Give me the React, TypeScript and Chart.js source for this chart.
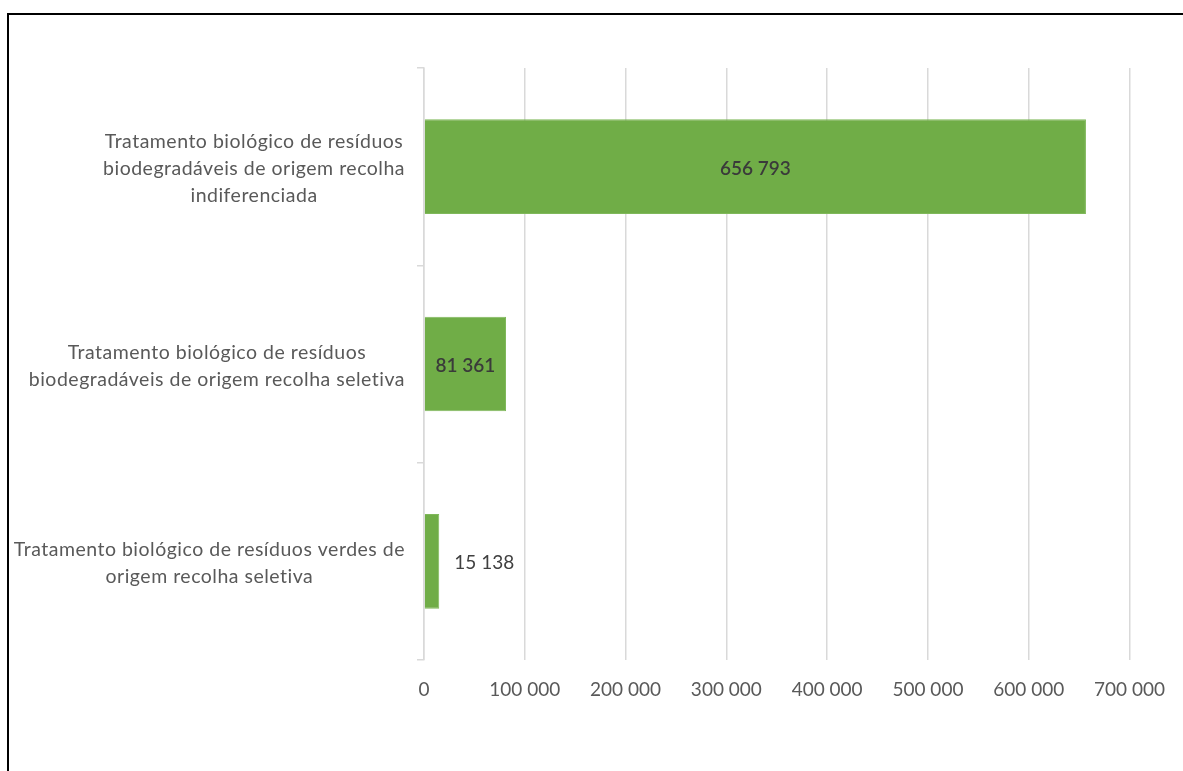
import React, { useEffect, useRef } from "react";
import { Chart, registerables } from "chart.js";

Chart.register(...registerables);

const categories: string[][] = [
  ["Tratamento biológico de resíduos", "biodegradáveis de origem recolha", "indiferenciada"],
  ["Tratamento biológico de resíduos", "biodegradáveis de origem recolha seletiva"],
  ["Tratamento biológico de resíduos verdes de", "origem recolha seletiva"],
];
const values: number[] = [656793, 81361, 15138];
const axisMin = 0;
const axisMax = 700000;
const axisStep = 100000;

const FONT = "Lato, 'Open Sans', sans-serif";
const fmt = (v: number) => String(Math.round(v)).replace(/\B(?=(\d{3})+(?!\d))/g, " ");

const categoryLabelPlugin = {
  id: "categoryLabels",
  afterDraw(chart: any) {
    const scale = chart.scales.y;
    const ctx = chart.ctx;
    ctx.save();
    ctx.font = `19.5px ${FONT}`;
    try {
      (ctx as any).letterSpacing = "0.5px";
    } catch (e) {}
    ctx.fillStyle = "#595959";
    ctx.textAlign = "center";
    ctx.textBaseline = "middle";
    const rightEdge = scale.right - 19;
    const lineH = 27;
    categories.forEach((lines, i) => {
      const y = scale.getPixelForTick(i);
      const w = Math.max(...lines.map((l) => ctx.measureText(l).width));
      const cx = rightEdge - w / 2;
      lines.forEach((l, j) => {
        ctx.fillText(l, cx, y + (j - (lines.length - 1) / 2) * lineH + 2);
      });
    });
    ctx.restore();
  },
};

const dataLabelPlugin = {
  id: "dataLabels",
  afterDatasetsDraw(chart: any) {
    const ctx = chart.ctx;
    const meta = chart.getDatasetMeta(0);
    ctx.save();
    ctx.textBaseline = "middle";
    ctx.fillStyle = "#404040";
    meta.data.forEach((bar: any, i: number) => {
      const text = fmt(values[i]);
      const barW = Math.abs(bar.x - bar.base);
      ctx.font = `19px ${FONT}`;
      const tw = ctx.measureText(text).width;
      if (barW >= tw + 12) {
        ctx.font = `600 19px ${FONT}`;
        ctx.fillStyle = "#3a3a3a";
        ctx.textAlign = "center";
        ctx.fillText(text, (bar.x + bar.base) / 2, bar.y + 2);
      } else {
        ctx.fillStyle = "#404040";
        ctx.textAlign = "left";
        ctx.fillText(text, bar.x + 15, bar.y + 2);
      }
    });
    ctx.restore();
  },
};

export default function App() {
  const ref = useRef<HTMLCanvasElement | null>(null);
  useEffect(() => {
    if (!ref.current) return;
    const chart = new Chart(ref.current, {
      type: "bar",
      data: {
        labels: categories.map((c) => c.join(" ")),
        datasets: [
          {
            data: values,
            backgroundColor: "#70ad47",
            borderColor: "#7fb85a",
            borderWidth: 1,
            barPercentage: 0.48,
            categoryPercentage: 1,
          },
        ],
      },
      options: {
        indexAxis: "y",
        animation: false,
        responsive: false,
        devicePixelRatio: 1,
        layout: { padding: { top: 68, right: 53, left: 0, bottom: 0 } },
        plugins: { legend: { display: false }, tooltip: { enabled: false } },
        scales: {
          x: {
            min: axisMin,
            max: axisMax,
            ticks: {
              stepSize: axisStep,
              padding: 18,
              color: "#595959",
              font: { family: FONT, size: 19 },
              callback: (v: any) => fmt(Number(v)),
            },
            grid: { color: "#d9d9d9", lineWidth: 1.5, drawTicks: false },
            border: { display: false },
            afterFit: (s: any) => {
              s.height = 111;
            },
          },
          y: {
            ticks: { display: false },
            grid: {
              offset: true,
              drawOnChartArea: false,
              drawTicks: true,
              tickLength: 7,
              color: "#d9d9d9",
              lineWidth: 1.5,
            },
            border: { display: true, color: "#d9d9d9", width: 1.5 },
            afterFit: (s: any) => {
              s.width = 424;
            },
          },
        },
      },
      plugins: [categoryLabelPlugin, dataLabelPlugin],
    });
    return () => chart.destroy();
  }, []);

  return (
    <div style={{ position: "fixed", inset: 0, background: "#fff", overflow: "hidden" }}>
      <div
        style={{
          position: "absolute",
          left: 7,
          top: 13,
          width: 1300,
          height: 900,
          border: "2px solid #000",
        }}
      />
      <canvas
        ref={ref}
        width={1183}
        height={771}
        style={{ position: "absolute", left: 0, top: 0, width: 1183, height: 771 }}
      />
    </div>
  );
}
